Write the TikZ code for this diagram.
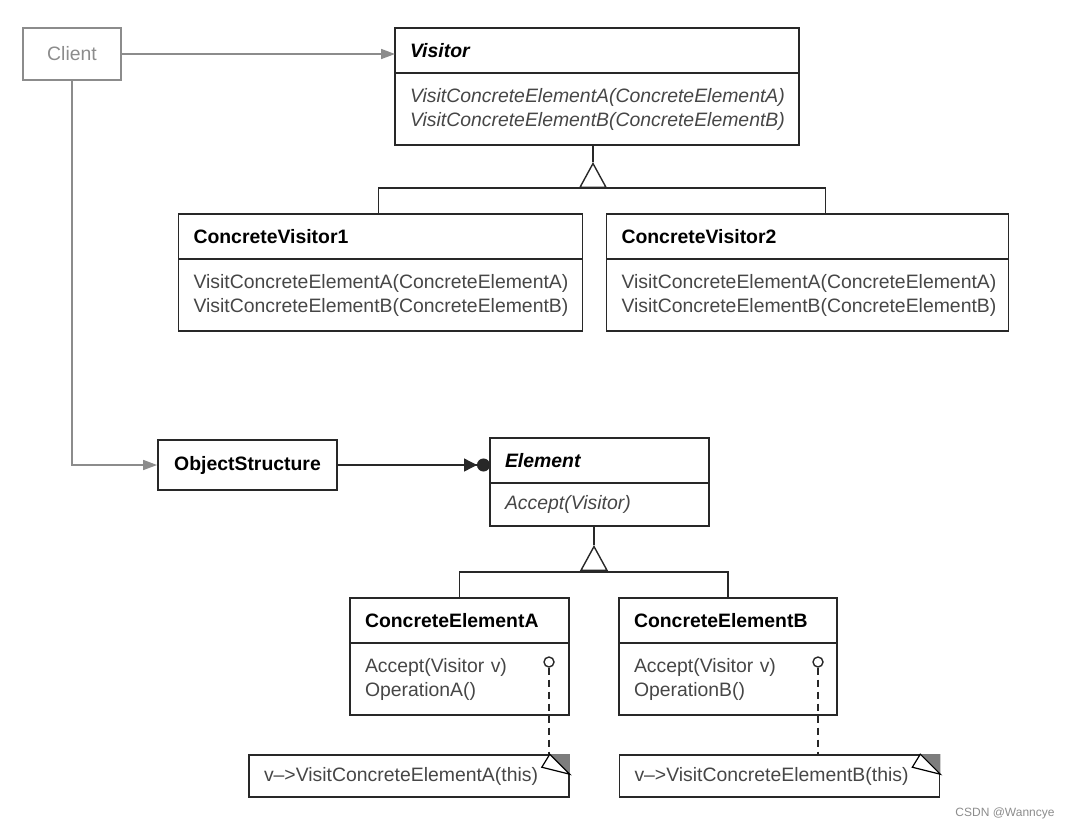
\documentclass[tikz,border=0pt]{standalone}
\usepackage{fontspec}
\setmainfont{Liberation Sans}
\usetikzlibrary{positioning, arrows.meta}
\definecolor{inkdark}{RGB}{40,40,40}
\definecolor{opsgrey}{RGB}{70,70,70}
\definecolor{clientgrey}{RGB}{140,140,140}
\definecolor{foldgrey}{RGB}{125,125,125}
\newcommand{\umlfont}{\fontsize{9.7}{12}\selectfont}
% folded corner of a note, drawn on the named node
\newcommand{\noteear}[1]{%
  \fill[foldgrey] ([xshift=-10pt]#1.north east) -- ++(20,20) -- (#1.north east) -- cycle;
  \draw[line width=0.6pt, fill=white] ([xshift=-10pt]#1.north east) -- ++(-8,13) -- ++(28,7) -- cycle;
}
\tikzset{
x=0.5pt, y=-0.5pt, % one unit is one pixel of the scan, y going down
edge/.style={draw=inkdark, line width=0.7pt}, % plain connector
useline/.style={draw=clientgrey, line width=0.8pt, -{Triangle[length=7pt, width=5pt]}}, % client links
aggregate/.style={edge, -{Triangle[length=6.5pt, width=6.5pt] Circle[length=6.5pt]}}, % many-valued aggregation
inherit/.style={edge, -{Triangle[open, length=13pt, width=14pt]}}, % inheritance triangle
noteline/.style={edge, dash pattern=on 3.5pt off 2.5pt}, % note attachment
classhead/.style={draw=inkdark, line width=0.9pt, outer sep=0pt, minimum height=22.5pt, inner xsep=7.5pt, align=left, font=\umlfont\bfseries},
classbody/.style={draw=inkdark, line width=0.9pt, outer sep=0pt, minimum height=36pt, inner xsep=7.5pt, align=left, text=opsgrey, font=\umlfont},
clientbox/.style={draw=clientgrey, line width=0.8pt, text=clientgrey, minimum width=49pt, minimum height=26pt, font=\umlfont},
namebox/.style={draw=inkdark, line width=0.9pt, minimum width=89.5pt, minimum height=25pt, font=\umlfont\bfseries},
notebox/.style={draw=inkdark, line width=0.8pt, text width=145pt, inner xsep=7.5pt, minimum height=21pt, align=left, text=opsgrey, font=\umlfont},
pin/.style={circle, draw=inkdark, line width=0.7pt, fill=white, inner sep=0pt, minimum size=5pt},
}

\begin{document}
\begin{tikzpicture}
  \useasboundingbox (0,0) rectangle (1070,830);
  % visitor hierarchy
  \node[clientbox] (client) at (72,54) {Client};
  \node[classhead, text width=187pt] (visitor) at (597,50.5) {\textit{Visitor}};
  \node[classbody, text width=187pt, below=0pt of visitor, font=\umlfont\itshape] (visitorops) {VisitConcreteElementA(ConcreteElementA)\\VisitConcreteElementB(ConcreteElementB)};
  \node[classhead, text width=187pt] (cv1) at (380.5,236.5) {ConcreteVisitor1};
  \node[classbody, text width=187pt, below=0pt of cv1] (cv1ops) {VisitConcreteElementA(ConcreteElementA)\\VisitConcreteElementB(ConcreteElementB)};
  \node[classhead, text width=186pt, right=12pt of cv1] (cv2) {ConcreteVisitor2};
  \node[classbody, text width=186pt, below=0pt of cv2] (cv2ops) {VisitConcreteElementA(ConcreteElementA)\\VisitConcreteElementB(ConcreteElementB)};

  % element hierarchy
  \node[namebox] (objstruct) at (247.5,465) {ObjectStructure};
  \node[classhead, text width=94.5pt] (element) at (599.5,460.5) {\textit{Element}};
  \node[classbody, text width=94.5pt, minimum height=21.5pt, below=0pt of element, font=\umlfont\itshape] (elementops) {Accept(Visitor)};
  \node[classhead, text width=94.5pt] (cea) at (459.5,620.5) {ConcreteElementA};
  \node[classbody, text width=94.5pt, below=0pt of cea] (ceaops) {Accept(Visitor v)\\OperationA()};
  \node[classhead, text width=94pt, right=25pt of cea] (ceb) {ConcreteElementB};
  \node[classbody, text width=94pt, below=0pt of ceb] (cebops) {Accept(Visitor v)\\OperationB()};
  \node[notebox] (noteA) at (409,776) {v-->VisitConcreteElementA(this)};
  \node[notebox] (noteB) at (779.5,776) {v-->VisitConcreteElementB(this)};
  \node[pin] (pinA) at (549,662) {};
  \node[pin] (pinB) at (818,662) {};
  \node[text=clientgrey, font=\fontsize{6}{7}\selectfont] (credit) at (1005,813) {CSDN @Wanncye};

  \coordinate (vapex) at (593,162);
  \coordinate (vjoin) at (593,188);
  \coordinate (eapex) at (594,545);
  \coordinate (ejoin) at (594,572);

  \draw[useline] (client.east) -- (client.east -| visitor.west);
  \draw[useline] (client.south) |- (objstruct.west);
  \draw[aggregate] (objstruct.east) -- (objstruct.east -| element.west);
  \draw[edge] (vapex |- visitorops.south) -- (vapex);
  \draw[inherit] (vjoin) -- (vapex);
  \draw[edge] ([xshift=-1pt]cv1.north) |- (vjoin) -| ([xshift=9pt]cv2.north);
  \draw[edge] (eapex |- elementops.south) -- (eapex);
  \draw[inherit] (ejoin) -- (eapex);
  \draw[edge] (cea.north) |- (ejoin) -| (ceb.north);
  \draw[noteline] (pinA) -- (pinA |- noteA.north);
  \draw[noteline] (pinB) -- (pinB |- noteB.north);
  \noteear{noteA}
  \noteear{noteB}
\end{tikzpicture}
\end{document}
